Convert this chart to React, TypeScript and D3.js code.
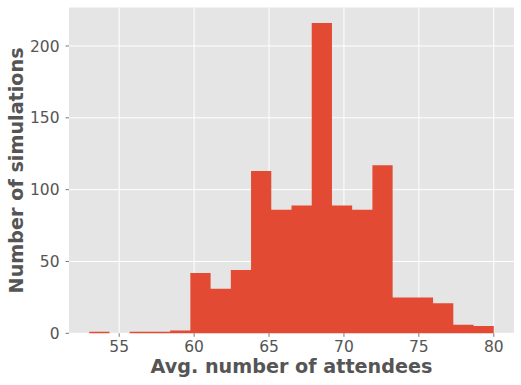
import React from "react";
import * as d3 from "d3";

const binStart = 53.0;
const binWidth = 1.35;
const counts = [1, 0, 1, 1, 2, 42, 31, 44, 113, 86, 89, 216, 89, 86, 117, 25, 25, 21, 6, 5];
const xTicks = [55, 60, 65, 70, 75, 80];
const yTicks = [0, 50, 100, 150, 200];
const xLabel = "Avg. number of attendees";
const yLabel = "Number of simulations";

const W = 521, H = 385;
const left = 69, right = 514, top = 7.5, bottom = 333.3;

export default function App() {
  const dataMin = binStart;
  const dataMax = binStart + binWidth * counts.length;
  const pad = (dataMax - dataMin) * 0.05;
  const x = d3.scaleLinear().domain([dataMin - pad, dataMax + pad]).range([left, right]);
  const yMax = (d3.max(counts) as number) * 1.05;
  const y = d3.scaleLinear().domain([0, yMax]).range([bottom, top]);
  const font = "DejaVu Sans, sans-serif";

  // Build all bars as one path so adjacent bars show no seams
  const p = d3.path();
  counts.forEach((c, i) => {
    if (c <= 0) return;
    const x0 = x(binStart + i * binWidth);
    const x1 = x(binStart + (i + 1) * binWidth);
    p.rect(x0, y(c), x1 - x0, y(0) - y(c));
  });

  return (
    <svg width={W} height={H} style={{ position: "absolute", left: 0, top: 0 }} fontFamily={font}>
      <rect x={left} y={top} width={right - left} height={bottom - top} fill="#E5E5E5" />
      {xTicks.map((t) => (
        <line key={"gx" + t} x1={x(t)} x2={x(t)} y1={top} y2={bottom} stroke="#fff" strokeWidth={1} />
      ))}
      {yTicks.map((t) => (
        <line key={"gy" + t} x1={left} x2={right} y1={y(t)} y2={y(t)} stroke="#fff" strokeWidth={1} />
      ))}
      <path d={p.toString()} fill="#E24A33" fillRule="nonzero" />
      {xTicks.map((t) => (
        <g key={"tx" + t}>
          <line x1={x(t)} x2={x(t)} y1={bottom} y2={bottom + 3.5} stroke="#555" strokeWidth={0.8} />
          <text x={x(t)} y={bottom + 18.5} textAnchor="middle" fontSize={15.5} fill="#555">
            {t}
          </text>
        </g>
      ))}
      {yTicks.map((t) => (
        <g key={"ty" + t}>
          <line x1={left - 3.5} x2={left} y1={y(t)} y2={y(t)} stroke="#555" strokeWidth={0.8} />
          <text x={left - 9.5} y={y(t)} dy="0.36em" textAnchor="end" fontSize={15.5} fill="#555">
            {t}
          </text>
        </g>
      ))}
      <text x={(left + right) / 2} y={372.5} textAnchor="middle" fontSize={19.2} fontWeight="bold" fill="#555">
        {xLabel}
      </text>
      <text
        transform={`translate(23,${(top + bottom) / 2}) rotate(-90)`}
        textAnchor="middle"
        fontSize={19.2}
        fontWeight="bold"
        fill="#555"
      >
        {yLabel}
      </text>
    </svg>
  );
}
